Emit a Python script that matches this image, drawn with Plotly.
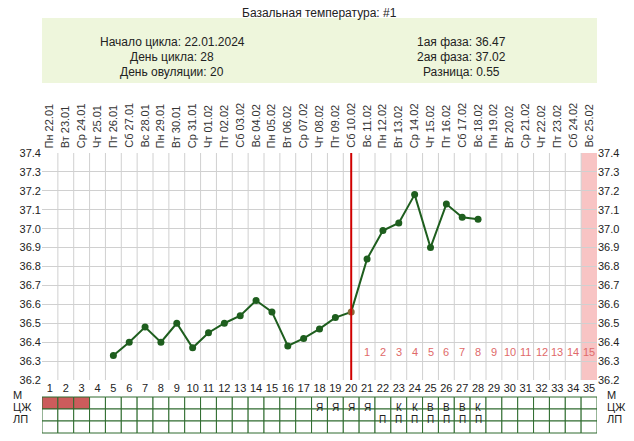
import plotly.graph_objects as go

days = list(range(1, 36))
dates = ["22.01","23.01","24.01","25.01","26.01","27.01","28.01","29.01","30.01","31.01",
         "01.02","02.02","03.02","04.02","05.02","06.02","07.02","08.02","09.02","10.02",
         "11.02","12.02","13.02","14.02","15.02","16.02","17.02","18.02","19.02","20.02",
         "21.02","22.02","23.02","24.02","25.02"]
weekdays = ["Пн","Вт","Ср","Чт","Пт","Сб","Вс"]
temp_days = list(range(5, 29))
temps = [36.33,36.40,36.48,36.40,36.50,36.37,36.45,36.50,36.54,36.62,36.56,36.38,
         36.42,36.47,36.53,36.56,36.84,36.99,37.03,37.18,36.90,37.13,37.06,37.05]
ovulation_day = 20
mens_days = [1, 2, 3]
cm_marks = {18:"Я",19:"Я",20:"Я",21:"Я",23:"К",24:"К",25:"В",26:"В",27:"В",28:"К"}
lp_marks = {d: "П" for d in range(22, 29)}
info_left = ["Начало цикла: 22.01.2024", "День цикла: 28", "День овуляции: 20"]
info_right = ["1ая фаза: 36.47", "2ая фаза: 37.02", "Разница: 0.55"]

H = 227.0
def py(p):  # reference pixel y -> paper y
    return (380 - p) / H

fig = go.Figure()
shapes, ann = [], []
shapes.append(dict(type="rect", xref="x", yref="paper", x0=34.5, x1=35.5, y0=0, y1=1,
                   fillcolor="#f8c4c4", line_width=0, layer="below"))
for d in range(1, 35):
    shapes.append(dict(type="line", xref="x", yref="paper", x0=d+0.5, x1=d+0.5, y0=0, y1=1,
                       line=dict(color="#d0d0d0", width=1), layer="below"))
shapes.append(dict(type="line", xref="x", yref="paper", x0=ovulation_day, x1=ovulation_day,
                   y0=0, y1=1, line=dict(color="#d00000", width=2)))
shapes.append(dict(type="rect", xref="paper", yref="paper", x0=0, x1=1, y0=py(83), y1=py(18),
                   fillcolor="#eef6dc", line_width=0))
rows_top = [397, 409, 421, 433]
for i in range(3):
    for d in days:
        fill = "#cc5c5c" if (i == 0 and d in mens_days) else "white"
        shapes.append(dict(type="rect", xref="x", yref="paper", x0=d-0.5, x1=d+0.5,
                           y0=py(rows_top[i+1]), y1=py(rows_top[i]), fillcolor=fill,
                           line=dict(color="#2e6b2e", width=1)))
labels = ["М", "ЦЖ", "ЛП"]
for i, lab in enumerate(labels):
    yc = py((rows_top[i] + rows_top[i+1]) / 2)
    for xp in [-0.055, 1.015]:
        ann.append(dict(xref="paper", yref="paper", x=xp, y=yc, text=lab, showarrow=False,
                        xanchor="left", font=dict(size=11, color="#222")))
for row, marks in [(1, cm_marks), (2, lp_marks)]:
    yc = py((rows_top[row] + rows_top[row+1]) / 2)
    for d, t in marks.items():
        ann.append(dict(xref="x", yref="paper", x=d, y=yc, text=t, showarrow=False,
                        font=dict(size=10, color="#222")))
for d, dt in zip(days, dates):
    ann.append(dict(xref="x", yref="paper", x=d, y=py(150), text=weekdays[(d-1) % 7] + " " + dt,
                    textangle=-90, showarrow=False, yanchor="bottom",
                    font=dict(size=11, color="#333")))
for k, d in enumerate(range(ovulation_day+1, 36), start=1):
    ann.append(dict(xref="x", yref="y", x=d, y=36.35, text=str(k), showarrow=False,
                    font=dict(size=11, color="#e06a6a")))
for i, (l, r) in enumerate(zip(info_left, info_right)):
    yy = py(33 + i*15)
    ann.append(dict(xref="paper", yref="paper", x=0.235, y=yy, text=l, showarrow=False,
                    xanchor="center", font=dict(size=12, color="#222")))
    ann.append(dict(xref="paper", yref="paper", x=0.755, y=yy, text=r, showarrow=False,
                    xanchor="center", font=dict(size=12, color="#222")))
ann.append(dict(xref="paper", yref="paper", x=0.5, y=py(4), text="Базальная температура: #1",
                showarrow=False, xanchor="center", font=dict(size=12, color="#222")))

fig.add_trace(go.Scatter(x=temp_days, y=temps, mode="lines+markers",
                         line=dict(color="#1e5e1e", width=2),
                         marker=dict(color=["#8a6a3a" if d == ovulation_day else "#1e5e1e" for d in temp_days],
                                     size=7), showlegend=False))
fig.add_trace(go.Scatter(x=temp_days, y=temps, yaxis="y2", mode="markers",
                         marker=dict(opacity=0), showlegend=False, hoverinfo="skip"))

ticks = [round(36.2 + 0.1*i, 1) for i in range(13)]
fig.update_layout(
    width=634, height=441, margin=dict(l=29, r=45, t=145, b=69),
    plot_bgcolor="white", paper_bgcolor="white",
    font=dict(family="Liberation Sans, Arial", size=11, color="#222"),
    xaxis=dict(range=[0.5, 35.5], tickvals=days, ticktext=[str(d) for d in days],
               showgrid=False, zeroline=False, ticks="", tickfont=dict(size=11)),
    yaxis=dict(range=[36.2, 37.4], tickvals=ticks, ticktext=[f"{t:.1f}" for t in ticks],
               gridcolor="#d0d0d0", zeroline=False, ticks=""),
    yaxis2=dict(range=[36.2, 37.4], tickvals=ticks, ticktext=[f"{t:.1f}" for t in ticks],
                overlaying="y", side="right", showgrid=False, zeroline=False, ticks=""),
    shapes=shapes, annotations=ann,
)
fig.write_html("out.html")
